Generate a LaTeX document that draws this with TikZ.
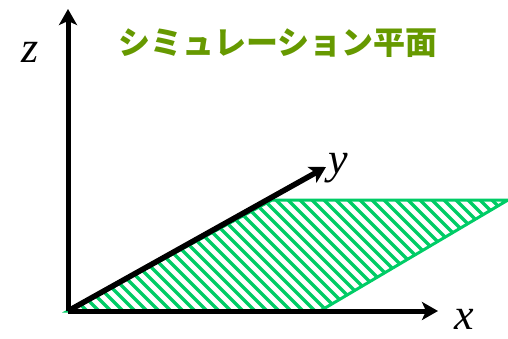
\documentclass[tikz,border=0pt]{standalone}
\usepackage{fontspec}
\setmainfont{Liberation Serif}
\newfontfamily\cjk{Noto Sans CJK JP}
\usepackage{tikz}
\usetikzlibrary{positioning,arrows.meta}
\usepackage{xcolor}
\definecolor{planegreen}{RGB}{0,204,102}
\definecolor{titlegreen}{RGB}{102,153,0}

\begin{document}
\begin{tikzpicture}[
    x=1pt, y=-1pt,
    >={Stealth[length=16pt,width=18pt,inset=4pt]},
    axis/.style={->, line width=5pt},
    plane/.style={draw=planegreen, line width=3pt, line join=miter},
    hatch/.style={planegreen, line width=3.2pt},
    axlabel/.style={font=\fontsize{44}{44}\selectfont\itshape, inner sep=0pt}
]
\useasboundingbox (0,0) rectangle (508,339);

\coordinate (O) at (68,311);
\coordinate (ztip) at (68,9);
\coordinate (xtip) at (438,311);
\coordinate (ytip) at (326,167);
\coordinate (pa) at (272,200);
\coordinate (pb) at (508,200);
\coordinate (pc) at (320,311);

% hatched plane
\begin{scope}
\clip (O) -- (pa) -- (pb) -- (pc) -- cycle;
\foreach \s in {-70,-58,...,520}
    \draw[hatch] (\s,190) -- (\s+130,320);
\end{scope}
\draw[plane] (O) -- (pa) -- (pb) -- (pc) -- cycle;

% axes
\draw[axis] (O) -- (ztip);
\draw[axis] (O) -- (xtip);
\draw[axis, line width=5.5pt] (O) -- (ytip);

\node[axlabel] (zl) at (30,52) {z};
\node[axlabel] (xl) at (464,319) {x};
\node[axlabel] (yl) at (338,168) {y};

\node[font=\cjk\bfseries\fontsize{32}{32}\selectfont, text=titlegreen, inner sep=0pt] (title) at (278,43) {シミュレーション平面};

\end{tikzpicture}
\end{document}
